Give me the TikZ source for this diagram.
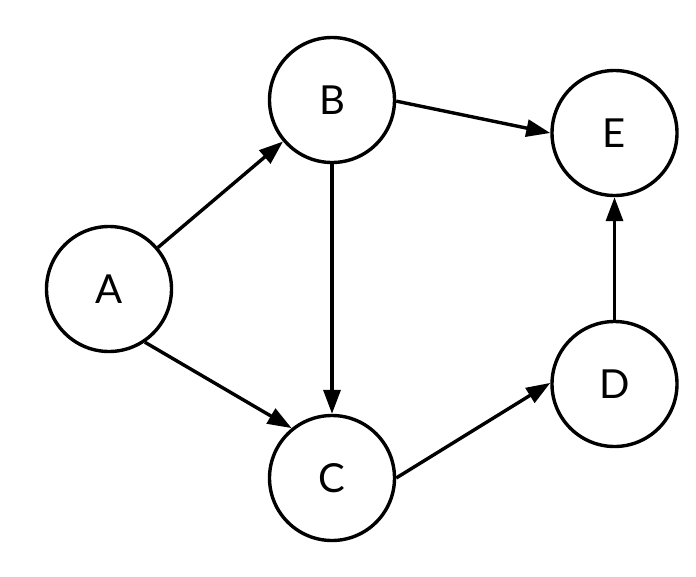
\documentclass[tikz,border=0pt]{standalone}
\usepackage{fontspec}
\setmainfont{Lato}
\usetikzlibrary{arrows.meta}
\begin{document}
\begin{tikzpicture}[x=1pt,y=-1pt,
  vertex/.style={circle,draw=black,line width=3.4pt,minimum size=125pt,inner sep=0pt,font=\fontsize{40}{42}\selectfont},
  edge/.style={line width=3.4pt,-{Triangle[length=24pt,width=17pt]}}]
\useasboundingbox (0,0) rectangle (696,576);
\node[vertex] (A) at (109,289) {A};
\node[vertex] (B) at (332,100) {B};
\node[vertex] (C) at (332,478) {C};
\node[vertex] (D) at (614.5,384) {D};
\node[vertex] (E) at (614.5,133) {E};
\draw[edge] (A) -- (B);
\draw[edge] (A.-56) -- (C.129.5);
\draw[edge] (B) -- (C);
\draw[edge] (B.-1) -- (E.180);
\draw[edge] (C.0) -- (D.179);
\draw[edge] (D) -- (E);
\end{tikzpicture}
\end{document}
